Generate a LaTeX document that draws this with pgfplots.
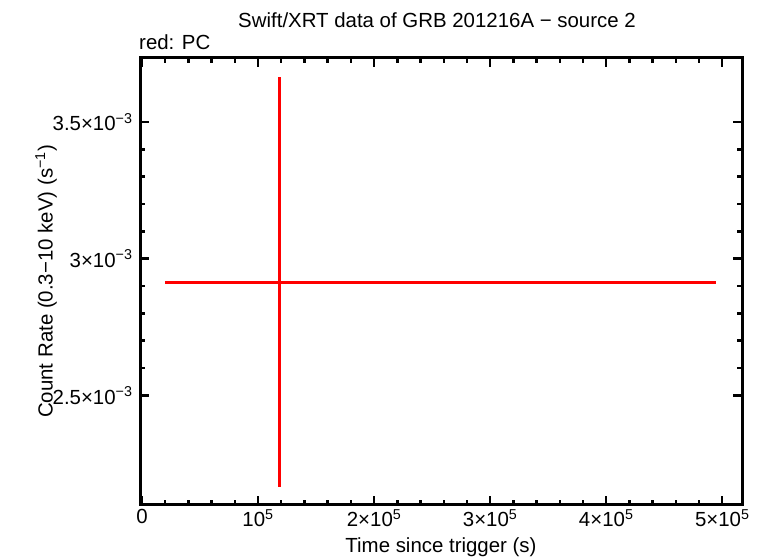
\documentclass[border=0pt]{standalone}
\usepackage{fontspec}
\setmainfont{Liberation Sans}
\usepackage{pgfplots}
\pgfplotsset{compat=1.18}
\begin{document}
\begin{tikzpicture}[x=1bp,y=1bp]
\useasboundingbox (0,0) rectangle (764,558);
\begin{axis}[at={(140bp,53bp)}, anchor=south west, scale only axis,
  width=602bp, height=447bp,
  xmin=-1700, xmax=517000, ymin=2.099e-3, ymax=3.734e-3,
  scaled ticks=false,
  xtick={0,100000,200000,300000,400000,500000},
  xticklabels={0,10\textsuperscript{5},2×10\textsuperscript{5},3×10\textsuperscript{5},4×10\textsuperscript{5},5×10\textsuperscript{5}},
  minor x tick num=4,
  ytick={2.5e-3,3e-3,3.5e-3},
  yticklabels={2.5×10\textsuperscript{−3},3×10\textsuperscript{−3},3.5×10\textsuperscript{−3}},
  minor y tick num=4,
  tick align=inside, major tick length=9bp, minor tick length=5bp,
  tick style={black, line width=2.4bp},
  every tick/.append style={black, line width=2.4bp},
  major tick style={black, line width=2.4bp},
  minor tick style={black, line width=2.4bp},
  axis line style={line width=3bp},
  tick label style={font=\fontsize{20.5}{24}\selectfont},
  yticklabel style={xshift=-4bp},
  xticklabel style={yshift=-1bp},
  label style={font=\fontsize{20.5}{24}\selectfont},
  xlabel={Time since trigger (s)},
  xlabel style={at={(axis description cs:0.5,0)}, anchor=center, yshift=-42bp},
  ylabel={Count Rate (0.3−10 keV) (s\textsuperscript{−1})},
  ylabel style={at={(axis description cs:-0.156,0.5)}, anchor=center},
]
\addplot[red, mark=none, draw=none,
  error bars/.cd, x dir=both, x explicit, y dir=both, y explicit,
  error mark=none, error bar style={red, line width=3bp}]
  table[x=x, y=y, x error plus=xp, x error minus=xm, y error plus=yp, y error minus=ym] {
x y xp xm yp ym
118100 2.912e-3 376700 98300 0.752e-3 0.748e-3
};
\end{axis}
\node[font=\fontsize{20.5}{24}\selectfont] at (437bp,538bp) {Swift/XRT data of GRB 201216A − source 2};
\node[font=\fontsize{20.5}{24}\selectfont, anchor=west, inner sep=0pt] at (139bp,516bp) {red: PC};
\end{tikzpicture}
\end{document}
